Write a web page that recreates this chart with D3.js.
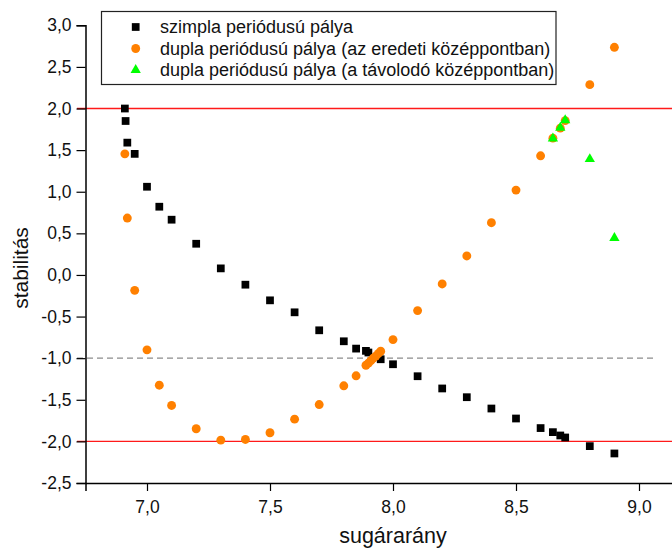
<!DOCTYPE html>
<html>
<head>
<meta charset="utf-8">
<script src="https://cdn.jsdelivr.net/npm/d3@7"></script>
<style>
  body { margin: 0; background: #fff; overflow: hidden; }
  svg { display: block; font-family: "Liberation Sans", Arial, sans-serif; }
</style>
</head>
<body>
<script>
// simple period orbit
const simpleX = [6.91, 6.913, 6.92, 6.95, 7.0, 7.05, 7.1, 7.2, 7.3, 7.4, 7.5, 7.6, 7.7, 7.8, 7.85, 7.89, 7.9, 7.95, 8.0, 8.1, 8.2, 8.3, 8.4, 8.5, 8.6, 8.65, 8.68, 8.7, 8.8, 8.9]
const simpleY = [2.0, 1.85, 1.59, 1.455, 1.06, 0.82, 0.664, 0.375, 0.079, -0.117, -0.305, -0.449, -0.665, -0.797, -0.885, -0.912, -0.932, -1.013, -1.073, -1.217, -1.364, -1.469, -1.605, -1.725, -1.84, -1.889, -1.929, -1.953, -2.057, -2.145]

// double period orbit (original centre)
const doubleX = [6.91, 6.92, 6.95, 7.0, 7.05, 7.1, 7.2, 7.3, 7.4, 7.5, 7.6, 7.7, 7.8, 7.85, 7.89, 7.9, 7.91, 7.92, 7.93, 7.94, 7.95, 8.0, 8.1, 8.2, 8.3, 8.4, 8.5, 8.6, 8.65, 8.68, 8.7, 8.8, 8.9]
const doubleY = [1.455, 0.684, -0.185, -0.9, -1.325, -1.568, -1.848, -1.985, -1.977, -1.896, -1.733, -1.557, -1.332, -1.212, -1.085, -1.06, -1.03, -1.0, -0.975, -0.945, -0.917, -0.777, -0.428, -0.108, 0.228, 0.628, 1.02, 1.432, 1.644, 1.764, 1.855, 2.287, 2.736]

// double period orbit (receding centre)
const recedeX = [8.65, 8.68, 8.7, 8.8, 8.9]
const recedeY = [1.64, 1.77, 1.86, 1.392, 0.444]

const yMajor = [-2.5, -2.0, -1.5, -1.0, -0.5, 0.0, 0.5, 1.0, 1.5, 2.0, 2.5, 3.0]
const xMajor = [7.0, 7.5, 8.0, 8.5, 9.0]
const redLevels = [2, -2]
const dashLevel = -1

const legendLabels = [
  "szimpla periódusú pálya",
  "dupla periódusú pálya (az eredeti középpontban)",
  "dupla periódusú pálya (a távolodó középpontban)"
]

const width = 672
const height = 548

const fmt = d3.formatLocale({decimal: ",", thousands: " ", grouping: [3], currency: ["", ""], minus: "-"}).format(".1f")

const x = d3.scaleLinear().domain([6.75, 9.25]).range([85.5, 700.5])
const y = d3.scaleLinear().domain([-2.5, 3.0]).range([483, 25.3])

const svg = d3.select("body").append("svg")
  .attr("width", width)
  .attr("height", height)

// reference lines
svg.selectAll("line.red").data(redLevels).enter().append("line")
  .attr("class", "red")
  .attr("x1", 77).attr("x2", width)
  .attr("y1", d => y(d)).attr("y2", d => y(d))
  .attr("stroke", "#ff1a1a").attr("stroke-width", 1.4)

svg.append("line")
  .attr("x1", 77).attr("x2", 655)
  .attr("y1", y(dashLevel)).attr("y2", y(dashLevel))
  .attr("stroke", "#8c8c8c").attr("stroke-width", 1.2)
  .attr("stroke-dasharray", "6,4")

// axes
const yMinor = d3.range(-2.25, 3.0, 0.5)
const xMinor = [6.75, 7.25, 7.75, 8.25, 8.75, 9.25]

const yAxis = svg.append("g").attr("transform", `translate(${x(6.75)},0)`)
yAxis.call(d3.axisLeft(y).tickValues(yMinor).tickSize(5).tickFormat(""))
yAxis.call(d3.axisLeft(y).tickValues(yMajor).tickSize(9).tickPadding(5).tickFormat(fmt))

const xAxis = svg.append("g").attr("transform", `translate(0,${y(-2.5)})`)
xAxis.call(d3.axisBottom(x).tickValues(xMinor).tickSize(4).tickFormat(""))
xAxis.call(d3.axisBottom(x).tickValues(xMajor).tickSize(8).tickPadding(10).tickFormat(fmt))

svg.selectAll(".domain").attr("stroke", "#000").attr("stroke-width", 1.5)
svg.selectAll(".tick line").attr("stroke", "#000").attr("stroke-width", 1.2)
svg.selectAll(".tick text")
  .attr("font-family", "'Liberation Sans', Arial, sans-serif")
  .attr("font-size", 17.5).attr("fill", "#111")

// axis titles
svg.append("text")
  .attr("x", 393).attr("y", 543)
  .attr("text-anchor", "middle")
  .attr("font-size", 21.5).attr("fill", "#111")
  .text("sugárarány")

svg.append("text")
  .attr("transform", "translate(28,268) rotate(-90)")
  .attr("text-anchor", "middle")
  .attr("font-size", 21).attr("fill", "#111")
  .text("stabilitás")

// points
const square = d3.symbol().type(d3.symbolSquare).size(60)
const circle = d3.symbol().type(d3.symbolCircle).size(62)
const triangle = d3.symbol().type(d3.symbolTriangle).size(46)

svg.append("g").selectAll("path").data(d3.zip(simpleX, simpleY)).enter().append("path")
  .attr("d", square)
  .attr("transform", d => `translate(${x(d[0])},${y(d[1])})`)
  .attr("fill", "#000")

svg.append("g").selectAll("path").data(d3.zip(doubleX, doubleY)).enter().append("path")
  .attr("d", circle)
  .attr("transform", d => `translate(${x(d[0])},${y(d[1])})`)
  .attr("fill", "#ff8000")

svg.append("g").selectAll("path").data(d3.zip(recedeX, recedeY)).enter().append("path")
  .attr("d", triangle)
  .attr("transform", d => `translate(${x(d[0])},${y(d[1])})`)
  .attr("fill", "#00ff00")

// legend
const legend = svg.append("g")
legend.append("rect")
  .attr("x", 101.5).attr("y", 11.5)
  .attr("width", 454.5).attr("height", 73)
  .attr("fill", "#fff").attr("stroke", "#222").attr("stroke-width", 1.2)

const symbols = [
  {shape: square, color: "#000"},
  {shape: circle, color: "#ff8000"},
  {shape: triangle, color: "#00ff00"}
]
const rowY = [27, 48.5, 70]

legend.selectAll("path").data(symbols).enter().append("path")
  .attr("d", d => d.shape())
  .attr("transform", (d, i) => `translate(135.7,${rowY[i]})`)
  .attr("fill", d => d.color)

legend.selectAll("text").data(legendLabels).enter().append("text")
  .attr("x", 160)
  .attr("y", (d, i) => rowY[i] + 6)
  .attr("font-size", 18).attr("fill", "#111")
  .text(d => d)
</script>
</body>
</html>
